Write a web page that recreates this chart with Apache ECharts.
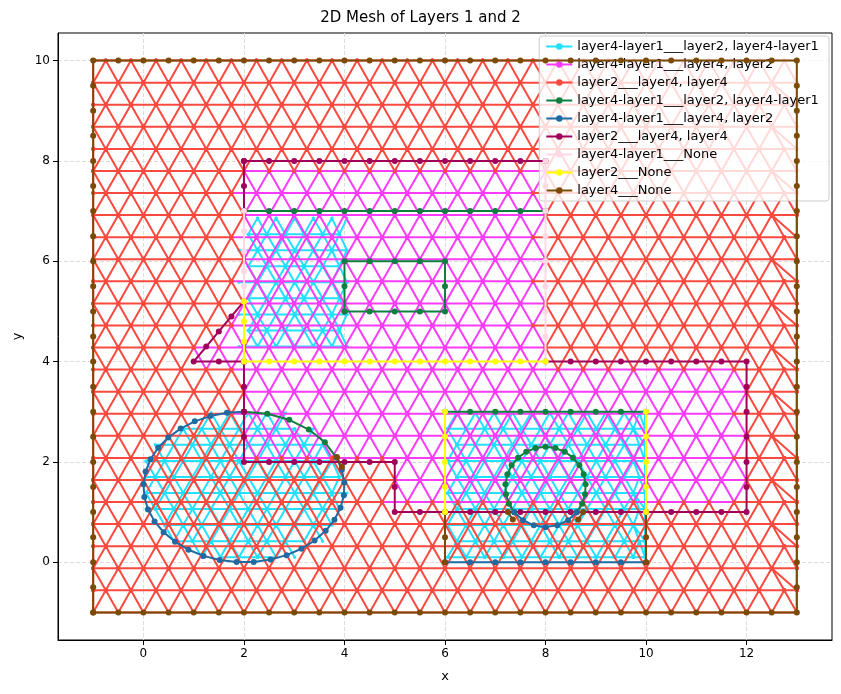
<!DOCTYPE html>
<html>
<head>
<meta charset="utf-8">
<script src="https://cdn.jsdelivr.net/npm/echarts@6/dist/echarts.min.js"></script>
<style>html,body{margin:0;padding:0;background:#fff}#main{width:841px;height:694px}</style>
</head>
<body>
<div id="main"></div>
<script>
// mesh rows / columns (lattice of the triangulation)
var meshY = [-1,-0.56,-0.12,0.32,0.76,1.2,1.64,2.08,2.52,2.96,3.4,3.84,4.28,4.72,5.16,5.6,6.04,6.48,6.92,7.36,7.8,8.24,8.68,9.12,9.56,10];
var meshX = [-1,-0.5,0,0.5,1,1.5,2,2.5,3,3.5,4,4.5,5,5.5,6,6.5,7,7.5,8,8.5,9,9.5,10,10.5,11,11.5,12,12.5,13];
var cyanY = [0.1,0.42,0.74,1.06,1.38,1.7,2.02,2.34,2.66,2.98,4.3,4.62,4.94,5.26,5.58,5.9,6.22,6.54,6.86];
var cyanX = [0.05,0.42,0.79,1.16,1.53,1.9,2.27,2.64,3.01,3.38,3.75,4.05,6.05,6.42,6.79,7.16,7.53,7.9,8.27,8.64,9.01,9.38,9.75,9.98];
// layer2 outline
var layer2Poly = [[2,8],[8,8],[8,4],[12,4],[12,1],[5,1],[5,2],[2,2],[2,4],[1,4],[2,5.2]];
// boundary polylines
var outerBox = [[-1,-1],[-0.5,-1],[0,-1],[0.5,-1],[1,-1],[1.5,-1],[2,-1],[2.5,-1],[3,-1],[3.5,-1],[4,-1],[4.5,-1],[5,-1],[5.5,-1],[6,-1],[6.5,-1],[7,-1],[7.5,-1],[8,-1],[8.5,-1],[9,-1],[9.5,-1],[10,-1],[10.5,-1],[11,-1],[11.5,-1],[12,-1],[12.5,-1],[13,-1],
    [13,-0.5],[13,0],[13,0.5],[13,1],[13,1.5],[13,2],[13,2.5],[13,3],[13,3.5],[13,4],[13,4.5],[13,5],[13,5.5],[13,6],[13,6.5],[13,7],[13,7.5],[13,8],[13,8.5],[13,9],[13,9.5],[13,10],
    [12.5,10],[12,10],[11.5,10],[11,10],[10.5,10],[10,10],[9.5,10],[9,10],[8.5,10],[8,10],[7.5,10],[7,10],[6.5,10],[6,10],[5.5,10],[5,10],[4.5,10],[4,10],[3.5,10],[3,10],[2.5,10],[2,10],[1.5,10],[1,10],[0.5,10],[0,10],[-0.5,10],[-1,10],
    [-1,9.5],[-1,9],[-1,8.5],[-1,8],[-1,7.5],[-1,7],[-1,6.5],[-1,6],[-1,5.5],[-1,5],[-1,4.5],[-1,4],[-1,3.5],[-1,3],[-1,2.5],[-1,2],[-1,1.5],[-1,1],[-1,0.5],[-1,0],[-1,-0.5],[-1,-1]];
var brownExtra = [[[6,0],[6,0.5],[6,1]],[[10,0],[10,0.5],[10,1]],[[7.25,1],[7.35,0.85]],[[8.75,1],[8.65,0.85]],[[3.85,2.1],[3.95,1.9]]];
var purpleLines = [[[2,8],[2.5,8],[3,8],[3.5,8],[4,8],[4.5,8],[5,8],[5.5,8],[6,8],[6.5,8],[7,8],[7.5,8],[8,8]],[[2,8],[2,7.5],[2,7]],
    [[2,5.2],[1.75,4.9],[1.5,4.6],[1.25,4.3],[1,4],[1.5,4],[2,4]],
    [[8,4],[8.5,4],[9,4],[9.5,4],[10,4],[10.5,4],[11,4],[11.5,4],[12,4],[12,3.5],[12,3],[12,2.5],[12,2],[12,1.5],[12,1],[11.5,1],[11,1],[10.5,1],[10,1],[9.5,1],[9,1],[8.5,1],[8,1],[7.5,1],[7,1],[6.5,1],[6,1],[5.5,1],[5,1],[5,1.5],[5,2],[4.5,2],[4,2],[3.5,2],[3,2],[2.5,2],[2,2],[2,2.5],[2,3]],
    [[2,3],[2,3.5],[2,4]]];
var pinkLines = [[[8,4],[8,4.5],[8,5],[8,5.5],[8,6],[8,6.5],[8,7],[8,7.5],[8,8]],[[2,7],[2,6.6],[2,6.2],[2,5.8],[2,5.5],[2,5.2]]];
var yellowLines = [[[2,5.2],[2,4.8],[2,4.4],[2,4],[2.5,4],[3,4],[3.5,4],[4,4],[4.5,4],[5,4],[5.5,4],[6,4],[6.5,4],[7,4],[7.5,4],[8,4]],[[6,1],[6,1.5],[6,2],[6,2.5],[6,3]],[[10,1],[10,1.5],[10,2],[10,2.5],[10,3]]];
var greenLines = [[[2,7],[2.5,7],[3,7],[3.5,7],[4,7],[4.5,7],[5,7],[5.5,7],[6,7],[6.5,7],[7,7],[7.5,7],[8,7]],
    [[4,5],[4.5,5],[5,5],[5.5,5],[6,5],[6,5.5],[6,6],[5.5,6],[5,6],[4.5,6],[4,6],[4,5.5],[4,5]],
    [[6,3],[6.5,3],[7,3],[7.5,3],[8,3],[8.5,3],[9,3],[9.5,3],[10,3]]];
var blueLines = [[[6,0],[6.5,0],[7,0],[7.5,0],[8,0],[8.5,0],[9,0],[9.5,0],[10,0]]];
var ellipse = {cx:2, cy:1.5, rx:2, ry:1.5, greenFrom:23, greenTo:90};
var ring = {cx:8, cy:1.5, r:0.8, greenFrom:-39, greenTo:219};

function inPoly(p, poly){
    var c=false;
    for(var i=0,j=poly.length-1;i<poly.length;j=i++){
        var a=poly[i], b=poly[j];
        if(((a[1]>p[1])!=(b[1]>p[1])) && (p[0]<(b[0]-a[0])*(p[1]-a[1])/(b[1]-a[1])+a[0])) c=!c;
    }
    return c;
}
function rowNodes(xs, j){
    if(j%2==0) return xs.slice();
    var r=[xs[0]];
    for(var i=0;i<xs.length-1;i++) r.push((xs[i]+xs[i+1])/2);
    r.push(xs[xs.length-1]);
    return r;
}
// zipper triangulation between two rows
function stripEdges(ys, xs, keep){
    var edges=[];
    for(var j=0;j<ys.length;j++){
        var a=rowNodes(xs,j);
        for(var i=0;i<a.length-1;i++) edges.push([[a[i],ys[j]],[a[i+1],ys[j]]]);
        if(j==ys.length-1) break;
        var b=rowNodes(xs,j+1), p=0, q=0;
        edges.push([[a[0],ys[j]],[b[0],ys[j+1]]]);
        while(p<a.length-1 || q<b.length-1){
            if(q>=b.length-1 || (p<a.length-1 && a[p+1]<=b[q+1])) p++; else q++;
            edges.push([[a[p],ys[j]],[b[q],ys[j+1]]]);
        }
    }
    return edges.filter(keep);
}
function mid(e){return [(e[0][0]+e[1][0])/2,(e[0][1]+e[1][1])/2];}
function len(e){return Math.hypot(e[0][0]-e[1][0],e[0][1]-e[1][1]);}
function toData(segs){
    var d=[];
    segs.forEach(function(s){ s.forEach(function(p){d.push(p);}); d.push(null); });
    return d;
}
function arc(cx,cy,rx,ry,a0,a1,n){
    var pts=[];
    for(var i=0;i<=n;i++){var t=(a0+(a1-a0)*i/n)*Math.PI/180; pts.push([cx+rx*Math.cos(t),cy+ry*Math.sin(t)]);}
    return pts;
}

var meshEdges = stripEdges(meshY, meshX, function(){return true;});
var magentaEdges = meshEdges.filter(function(e){return inPoly(mid(e),layer2Poly);});
var redEdges = meshEdges.filter(function(e){return !inPoly(mid(e),layer2Poly);});
var cyanEdges = stripEdges(cyanY, cyanX, function(e){
    if(len(e)>0.6) return false;
    var m=mid(e);
    var inE=Math.pow((m[0]-2)/2,2)+Math.pow((m[1]-1.5)/1.5,2)<0.95;
    var inR=m[0]>6 && m[0]<10 && m[1]>0 && m[1]<2.9;
    var inU=m[0]>2 && m[0]<4.2 && m[1]>4.2 && m[1]<6.8;
    return inE||inR||inU;
});

var greenSegs = greenLines.concat([
    arc(ellipse.cx,ellipse.cy,ellipse.rx,ellipse.ry,ellipse.greenFrom,ellipse.greenTo,5),
    arc(ring.cx,ring.cy,ring.r,ring.r,ring.greenFrom,ring.greenTo,18)]);
var blueSegs = blueLines.concat([
    arc(ellipse.cx,ellipse.cy,ellipse.rx,ellipse.ry,ellipse.greenTo,360+ellipse.greenFrom,30),
    arc(ring.cx,ring.cy,ring.r,ring.r,ring.greenTo,360+ring.greenFrom,6)]);
var brownSegs = [outerBox].concat(brownExtra);

function ser(name,color,segs,width,size,z){
    return {name:name,type:'line',data:toData(segs),connectNulls:false,symbol:'circle',
        showSymbol:true,showAllSymbol:true,
        symbolSize:size,z:z,lineStyle:{color:color,width:width},itemStyle:{color:color},
        emphasis:{disabled:true},animation:false};
}

var myChart = echarts.init(document.getElementById('main'));
var option = {
    animation:false,
    title:{text:'2D Mesh of Layers 1 and 2',left:'center',top:6,textStyle:{fontSize:15,fontWeight:'normal',color:'#000',fontFamily:'DejaVu Sans'}},
    legend:{right:12,top:36,orient:'vertical',itemGap:5,itemWidth:26,itemHeight:8,
        backgroundColor:'rgba(255,255,255,0.8)',borderColor:'#ccc',borderWidth:1,borderRadius:3,padding:[4,6],
        textStyle:{fontSize:13,color:'#000',fontFamily:'DejaVu Sans'}},
    grid:{left:58,right:9,top:33,bottom:54,show:true,borderColor:'#000',borderWidth:1},
    xAxis:{type:'value',min:-1.7,max:13.7,name:'x',nameLocation:'middle',nameGap:30,
        nameTextStyle:{fontSize:13,color:'#000',fontFamily:'DejaVu Sans'},
        axisLine:{onZero:false,lineStyle:{color:'#000'}},axisTick:{show:true,customValues:[0,2,4,6,8,10,12]},
        axisLabel:{color:'#000',fontSize:12,customValues:[0,2,4,6,8,10,12],fontFamily:'DejaVu Sans'},
        splitLine:{show:true,customValues:[0,2,4,6,8,10,12],lineStyle:{type:'dashed',color:'#ddd'}}},
    yAxis:{type:'value',min:-1.55,max:10.55,name:'y',nameLocation:'middle',nameGap:34,
        nameTextStyle:{fontSize:13,color:'#000',fontFamily:'DejaVu Sans'},
        axisLine:{show:true,onZero:false,lineStyle:{color:'#000'}},axisTick:{show:true,customValues:[0,2,4,6,8,10]},
        axisLabel:{color:'#000',fontSize:12,customValues:[0,2,4,6,8,10],fontFamily:'DejaVu Sans'},
        splitLine:{show:true,customValues:[0,2,4,6,8,10],lineStyle:{type:'dashed',color:'#ddd'}}},
    series:[
        ser('layer4-layer1___layer2, layer4-layer1','#22e0ff',cyanEdges,2,3,1),
        ser('layer4-layer1___layer4, layer2','#f93cf9',magentaEdges,2,4,2),
        ser('layer2___layer4, layer4','#fa4a40',redEdges,2,4,2),
        ser('layer4-layer1___layer2, layer4-layer1 ','#0f7f40',greenSegs,2,6,5),
        ser('layer4-layer1___layer4, layer2 ','#1f6aa0',blueSegs,2,6,5),
        ser('layer2___layer4, layer4 ','#a0005a',purpleLines,2,6,5),
        ser('layer4-layer1___None','#ffd8e4',pinkLines,2,6,5),
        ser('layer2___None','#ffff00',yellowLines,2,6,6),
        ser('layer4___None','#7b4a05',brownSegs,2,6,5)
    ]
};
myChart.setOption(option);
</script>
</body>
</html>
